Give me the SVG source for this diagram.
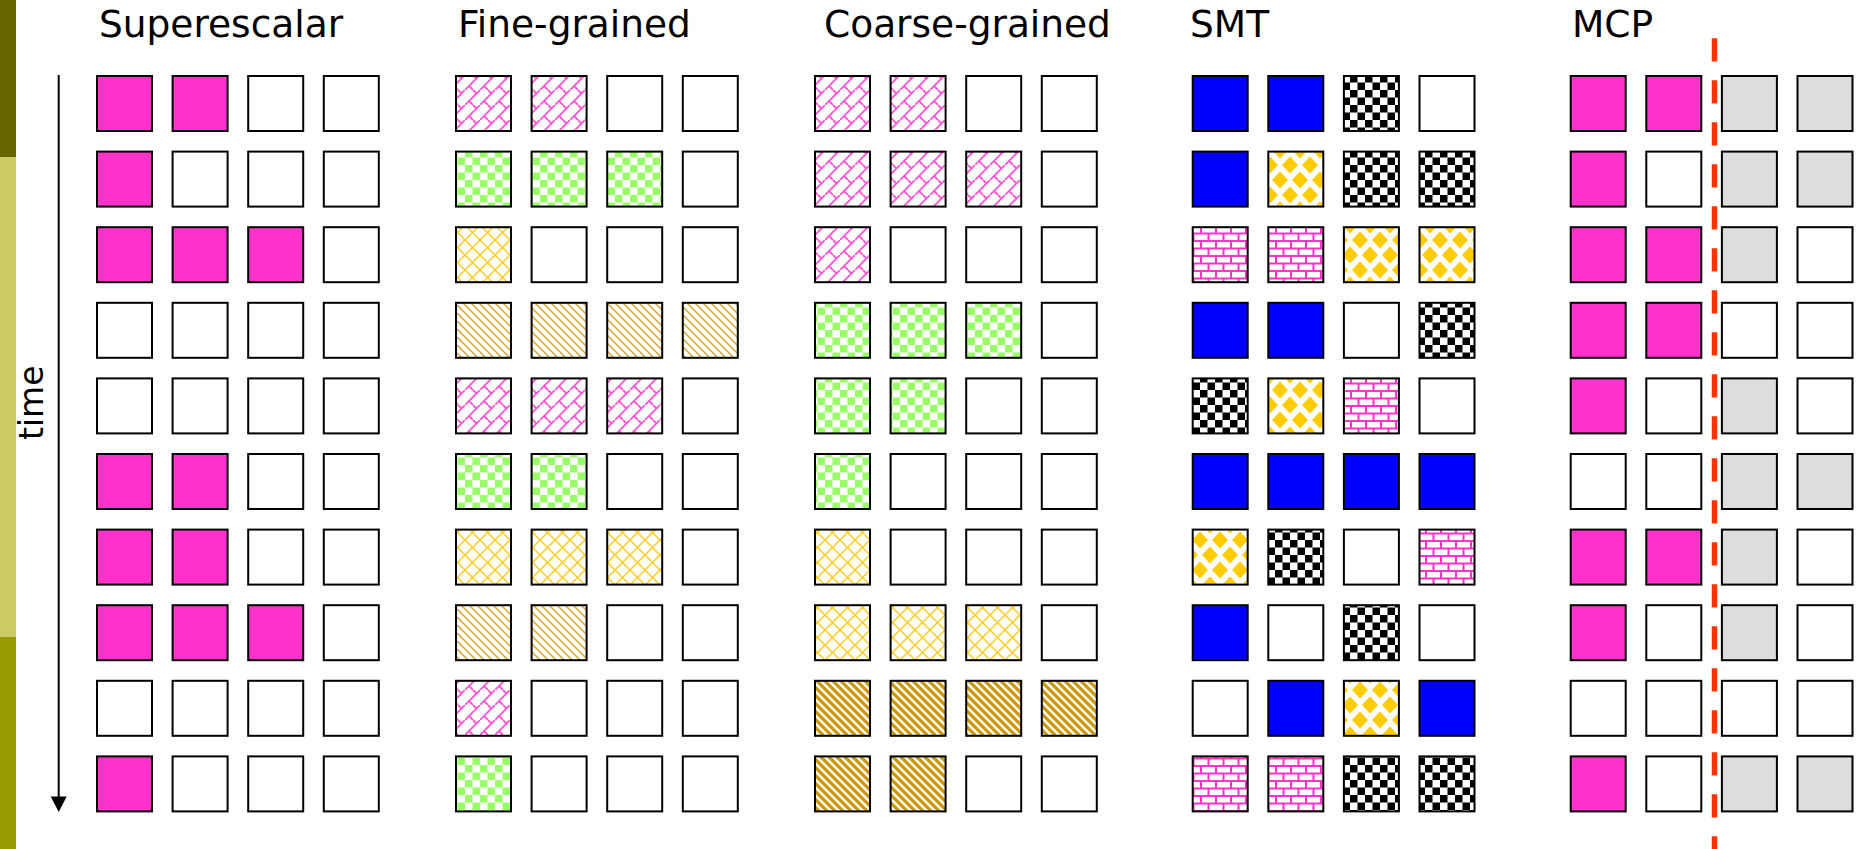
<svg xmlns="http://www.w3.org/2000/svg" width="1862" height="849" viewBox="0 0 1862 849">
<style>
.t{font-family:"DejaVu Sans",Verdana,sans-serif;font-size:37.5px;fill:#000}
.c{stroke:#000;stroke-width:2}
.w{fill:#fff}.p{fill:#FF33CC}.b{fill:#0000FF}.g{fill:#DDDDDD}
.pa{fill:url(#diagBrick)}.pg{fill:url(#greenCheck)}.py{fill:url(#yellowHatch)}
.po{fill:url(#orangeThin)}.pO{fill:url(#orangeThick)}.pk{fill:url(#blackCheck)}
.pd{fill:url(#yellowDiamond)}.pr{fill:url(#pinkBrick)}
</style>
<defs>
<pattern id="diagBrick" patternUnits="userSpaceOnUse" width="15" height="15">
<rect width="15" height="15" fill="#fff"/>
<path d="M-1,16 L16,-1 M4,11 L8,15 M8,0 L11.5,3.5" stroke="#FF55D5" stroke-width="1.8" fill="none"/>
</pattern>
<pattern id="greenCheck" patternUnits="userSpaceOnUse" width="15" height="15">
<rect width="15" height="15" fill="#fff"/>
<rect width="7.5" height="7.5" fill="#99FF66"/><rect x="7.5" y="7.5" width="7.5" height="7.5" fill="#99FF66"/>
</pattern>
<pattern id="yellowHatch" patternUnits="userSpaceOnUse" width="15" height="15">
<rect width="15" height="15" fill="#fff"/>
<path d="M-1,-1 L16,16 M16,-1 L-1,16" stroke="#FFCC22" stroke-width="1.5" fill="none"/>
</pattern>
<pattern id="orangeThin" patternUnits="userSpaceOnUse" width="8" height="8">
<rect width="8" height="8" fill="#fff"/>
<path d="M-2,-2 L10,10 M-2,6 L2,10 M6,-2 L10,2" stroke="#D9A530" stroke-width="1.5" fill="none"/>
</pattern>
<pattern id="orangeThick" patternUnits="userSpaceOnUse" width="8" height="8">
<rect width="8" height="8" fill="#fff"/>
<path d="M-2,-2 L10,10 M-2,6 L2,10 M6,-2 L10,2" stroke="#CC9900" stroke-width="3.2" fill="none"/>
</pattern>
<pattern id="blackCheck" patternUnits="userSpaceOnUse" width="15" height="15">
<rect width="15" height="15" fill="#fff"/>
<rect width="7.5" height="7.5" fill="#000"/><rect x="7.5" y="7.5" width="7.5" height="7.5" fill="#000"/>
</pattern>
<pattern id="yellowDiamond" patternUnits="userSpaceOnUse" width="20" height="30">
<rect width="20" height="30" fill="#fff"/>
<path d="M10,6.5 L18,15 L10,23.5 L2,15 Z M0,-8.5 L8,0 L0,8.5 L-8,0 Z M20,-8.5 L28,0 L20,8.5 L12,0 Z M0,21.5 L8,30 L0,38.5 L-8,30 Z M20,21.5 L28,30 L20,38.5 L12,30 Z" fill="#FFCC00"/>
</pattern>
<pattern id="pinkBrick" patternUnits="userSpaceOnUse" width="15" height="15">
<rect width="15" height="15" fill="#fff"/>
<path d="M0,1 L15,1 M0,8.5 L15,8.5 M1,1 L1,8.5 M8.5,8.5 L8.5,16" stroke="#FF33CC" stroke-width="2" fill="none"/>
</pattern>
</defs>

<g id="sidebar">
<rect x="0" y="0" width="16" height="157" fill="#666600"/>
<rect x="0" y="157" width="16" height="480" fill="#CCCC66"/>
<rect x="0" y="637" width="16" height="212" fill="#999900"/>
</g>

<g id="titles">
<text class="t" x="99" y="37">Superescalar</text>
<text class="t" x="458" y="37">Fine-grained</text>
<text class="t" x="824" y="37">Coarse-grained</text>
<text class="t" x="1190" y="37">SMT</text>
<text class="t" x="1572" y="37">MCP</text>
</g>

<g id="time-axis">
<line x1="58.7" y1="75" x2="58.7" y2="798" stroke="#000" stroke-width="2"/>
<polygon points="50.7,796.5 66.7,796.5 58.7,812" fill="#000"/>
<text class="t" style="font-size:33px" transform="translate(43,440) rotate(-90)">time</text>
</g>

<g id="superescalar">
<rect class="c p" x="97" y="76" width="55" height="55"/><rect class="c p" x="172.6" y="76" width="55" height="55"/><rect class="c w" x="248.2" y="76" width="55" height="55"/><rect class="c w" x="323.8" y="76" width="55" height="55"/>
<rect class="c p" x="97" y="151.6" width="55" height="55"/><rect class="c w" x="172.6" y="151.6" width="55" height="55"/><rect class="c w" x="248.2" y="151.6" width="55" height="55"/><rect class="c w" x="323.8" y="151.6" width="55" height="55"/>
<rect class="c p" x="97" y="227.2" width="55" height="55"/><rect class="c p" x="172.6" y="227.2" width="55" height="55"/><rect class="c p" x="248.2" y="227.2" width="55" height="55"/><rect class="c w" x="323.8" y="227.2" width="55" height="55"/>
<rect class="c w" x="97" y="302.8" width="55" height="55"/><rect class="c w" x="172.6" y="302.8" width="55" height="55"/><rect class="c w" x="248.2" y="302.8" width="55" height="55"/><rect class="c w" x="323.8" y="302.8" width="55" height="55"/>
<rect class="c w" x="97" y="378.4" width="55" height="55"/><rect class="c w" x="172.6" y="378.4" width="55" height="55"/><rect class="c w" x="248.2" y="378.4" width="55" height="55"/><rect class="c w" x="323.8" y="378.4" width="55" height="55"/>
<rect class="c p" x="97" y="454" width="55" height="55"/><rect class="c p" x="172.6" y="454" width="55" height="55"/><rect class="c w" x="248.2" y="454" width="55" height="55"/><rect class="c w" x="323.8" y="454" width="55" height="55"/>
<rect class="c p" x="97" y="529.6" width="55" height="55"/><rect class="c p" x="172.6" y="529.6" width="55" height="55"/><rect class="c w" x="248.2" y="529.6" width="55" height="55"/><rect class="c w" x="323.8" y="529.6" width="55" height="55"/>
<rect class="c p" x="97" y="605.2" width="55" height="55"/><rect class="c p" x="172.6" y="605.2" width="55" height="55"/><rect class="c p" x="248.2" y="605.2" width="55" height="55"/><rect class="c w" x="323.8" y="605.2" width="55" height="55"/>
<rect class="c w" x="97" y="680.8" width="55" height="55"/><rect class="c w" x="172.6" y="680.8" width="55" height="55"/><rect class="c w" x="248.2" y="680.8" width="55" height="55"/><rect class="c w" x="323.8" y="680.8" width="55" height="55"/>
<rect class="c p" x="97" y="756.4" width="55" height="55"/><rect class="c w" x="172.6" y="756.4" width="55" height="55"/><rect class="c w" x="248.2" y="756.4" width="55" height="55"/><rect class="c w" x="323.8" y="756.4" width="55" height="55"/>
</g>

<g id="fine-grained">
<rect class="c pa" x="456" y="76" width="55" height="55"/><rect class="c pa" x="531.6" y="76" width="55" height="55"/><rect class="c w" x="607.2" y="76" width="55" height="55"/><rect class="c w" x="682.8" y="76" width="55" height="55"/>
<rect class="c pg" x="456" y="151.6" width="55" height="55"/><rect class="c pg" x="531.6" y="151.6" width="55" height="55"/><rect class="c pg" x="607.2" y="151.6" width="55" height="55"/><rect class="c w" x="682.8" y="151.6" width="55" height="55"/>
<rect class="c py" x="456" y="227.2" width="55" height="55"/><rect class="c w" x="531.6" y="227.2" width="55" height="55"/><rect class="c w" x="607.2" y="227.2" width="55" height="55"/><rect class="c w" x="682.8" y="227.2" width="55" height="55"/>
<rect class="c po" x="456" y="302.8" width="55" height="55"/><rect class="c po" x="531.6" y="302.8" width="55" height="55"/><rect class="c po" x="607.2" y="302.8" width="55" height="55"/><rect class="c po" x="682.8" y="302.8" width="55" height="55"/>
<rect class="c pa" x="456" y="378.4" width="55" height="55"/><rect class="c pa" x="531.6" y="378.4" width="55" height="55"/><rect class="c pa" x="607.2" y="378.4" width="55" height="55"/><rect class="c w" x="682.8" y="378.4" width="55" height="55"/>
<rect class="c pg" x="456" y="454" width="55" height="55"/><rect class="c pg" x="531.6" y="454" width="55" height="55"/><rect class="c w" x="607.2" y="454" width="55" height="55"/><rect class="c w" x="682.8" y="454" width="55" height="55"/>
<rect class="c py" x="456" y="529.6" width="55" height="55"/><rect class="c py" x="531.6" y="529.6" width="55" height="55"/><rect class="c py" x="607.2" y="529.6" width="55" height="55"/><rect class="c w" x="682.8" y="529.6" width="55" height="55"/>
<rect class="c po" x="456" y="605.2" width="55" height="55"/><rect class="c po" x="531.6" y="605.2" width="55" height="55"/><rect class="c w" x="607.2" y="605.2" width="55" height="55"/><rect class="c w" x="682.8" y="605.2" width="55" height="55"/>
<rect class="c pa" x="456" y="680.8" width="55" height="55"/><rect class="c w" x="531.6" y="680.8" width="55" height="55"/><rect class="c w" x="607.2" y="680.8" width="55" height="55"/><rect class="c w" x="682.8" y="680.8" width="55" height="55"/>
<rect class="c pg" x="456" y="756.4" width="55" height="55"/><rect class="c w" x="531.6" y="756.4" width="55" height="55"/><rect class="c w" x="607.2" y="756.4" width="55" height="55"/><rect class="c w" x="682.8" y="756.4" width="55" height="55"/>
</g>

<g id="coarse-grained">
<rect class="c pa" x="815" y="76" width="55" height="55"/><rect class="c pa" x="890.6" y="76" width="55" height="55"/><rect class="c w" x="966.2" y="76" width="55" height="55"/><rect class="c w" x="1041.8" y="76" width="55" height="55"/>
<rect class="c pa" x="815" y="151.6" width="55" height="55"/><rect class="c pa" x="890.6" y="151.6" width="55" height="55"/><rect class="c pa" x="966.2" y="151.6" width="55" height="55"/><rect class="c w" x="1041.8" y="151.6" width="55" height="55"/>
<rect class="c pa" x="815" y="227.2" width="55" height="55"/><rect class="c w" x="890.6" y="227.2" width="55" height="55"/><rect class="c w" x="966.2" y="227.2" width="55" height="55"/><rect class="c w" x="1041.8" y="227.2" width="55" height="55"/>
<rect class="c pg" x="815" y="302.8" width="55" height="55"/><rect class="c pg" x="890.6" y="302.8" width="55" height="55"/><rect class="c pg" x="966.2" y="302.8" width="55" height="55"/><rect class="c w" x="1041.8" y="302.8" width="55" height="55"/>
<rect class="c pg" x="815" y="378.4" width="55" height="55"/><rect class="c pg" x="890.6" y="378.4" width="55" height="55"/><rect class="c w" x="966.2" y="378.4" width="55" height="55"/><rect class="c w" x="1041.8" y="378.4" width="55" height="55"/>
<rect class="c pg" x="815" y="454" width="55" height="55"/><rect class="c w" x="890.6" y="454" width="55" height="55"/><rect class="c w" x="966.2" y="454" width="55" height="55"/><rect class="c w" x="1041.8" y="454" width="55" height="55"/>
<rect class="c py" x="815" y="529.6" width="55" height="55"/><rect class="c w" x="890.6" y="529.6" width="55" height="55"/><rect class="c w" x="966.2" y="529.6" width="55" height="55"/><rect class="c w" x="1041.8" y="529.6" width="55" height="55"/>
<rect class="c py" x="815" y="605.2" width="55" height="55"/><rect class="c py" x="890.6" y="605.2" width="55" height="55"/><rect class="c py" x="966.2" y="605.2" width="55" height="55"/><rect class="c w" x="1041.8" y="605.2" width="55" height="55"/>
<rect class="c pO" x="815" y="680.8" width="55" height="55"/><rect class="c pO" x="890.6" y="680.8" width="55" height="55"/><rect class="c pO" x="966.2" y="680.8" width="55" height="55"/><rect class="c pO" x="1041.8" y="680.8" width="55" height="55"/>
<rect class="c pO" x="815" y="756.4" width="55" height="55"/><rect class="c pO" x="890.6" y="756.4" width="55" height="55"/><rect class="c w" x="966.2" y="756.4" width="55" height="55"/><rect class="c w" x="1041.8" y="756.4" width="55" height="55"/>
</g>

<g id="smt">
<rect class="c b" x="1192.7" y="76" width="55" height="55"/><rect class="c b" x="1268.3" y="76" width="55" height="55"/><rect class="c pk" x="1343.9" y="76" width="55" height="55"/><rect class="c w" x="1419.5" y="76" width="55" height="55"/>
<rect class="c b" x="1192.7" y="151.6" width="55" height="55"/><rect class="c pd" x="1268.3" y="151.6" width="55" height="55"/><rect class="c pk" x="1343.9" y="151.6" width="55" height="55"/><rect class="c pk" x="1419.5" y="151.6" width="55" height="55"/>
<rect class="c pr" x="1192.7" y="227.2" width="55" height="55"/><rect class="c pr" x="1268.3" y="227.2" width="55" height="55"/><rect class="c pd" x="1343.9" y="227.2" width="55" height="55"/><rect class="c pd" x="1419.5" y="227.2" width="55" height="55"/>
<rect class="c b" x="1192.7" y="302.8" width="55" height="55"/><rect class="c b" x="1268.3" y="302.8" width="55" height="55"/><rect class="c w" x="1343.9" y="302.8" width="55" height="55"/><rect class="c pk" x="1419.5" y="302.8" width="55" height="55"/>
<rect class="c pk" x="1192.7" y="378.4" width="55" height="55"/><rect class="c pd" x="1268.3" y="378.4" width="55" height="55"/><rect class="c pr" x="1343.9" y="378.4" width="55" height="55"/><rect class="c w" x="1419.5" y="378.4" width="55" height="55"/>
<rect class="c b" x="1192.7" y="454" width="55" height="55"/><rect class="c b" x="1268.3" y="454" width="55" height="55"/><rect class="c b" x="1343.9" y="454" width="55" height="55"/><rect class="c b" x="1419.5" y="454" width="55" height="55"/>
<rect class="c pd" x="1192.7" y="529.6" width="55" height="55"/><rect class="c pk" x="1268.3" y="529.6" width="55" height="55"/><rect class="c w" x="1343.9" y="529.6" width="55" height="55"/><rect class="c pr" x="1419.5" y="529.6" width="55" height="55"/>
<rect class="c b" x="1192.7" y="605.2" width="55" height="55"/><rect class="c w" x="1268.3" y="605.2" width="55" height="55"/><rect class="c pk" x="1343.9" y="605.2" width="55" height="55"/><rect class="c w" x="1419.5" y="605.2" width="55" height="55"/>
<rect class="c w" x="1192.7" y="680.8" width="55" height="55"/><rect class="c b" x="1268.3" y="680.8" width="55" height="55"/><rect class="c pd" x="1343.9" y="680.8" width="55" height="55"/><rect class="c b" x="1419.5" y="680.8" width="55" height="55"/>
<rect class="c pr" x="1192.7" y="756.4" width="55" height="55"/><rect class="c pr" x="1268.3" y="756.4" width="55" height="55"/><rect class="c pk" x="1343.9" y="756.4" width="55" height="55"/><rect class="c pk" x="1419.5" y="756.4" width="55" height="55"/>
</g>

<g id="mcp">
<rect class="c p" x="1570.7" y="76" width="55" height="55"/><rect class="c p" x="1646.3" y="76" width="55" height="55"/><rect class="c g" x="1721.9" y="76" width="55" height="55"/><rect class="c g" x="1797.5" y="76" width="55" height="55"/>
<rect class="c p" x="1570.7" y="151.6" width="55" height="55"/><rect class="c w" x="1646.3" y="151.6" width="55" height="55"/><rect class="c g" x="1721.9" y="151.6" width="55" height="55"/><rect class="c g" x="1797.5" y="151.6" width="55" height="55"/>
<rect class="c p" x="1570.7" y="227.2" width="55" height="55"/><rect class="c p" x="1646.3" y="227.2" width="55" height="55"/><rect class="c g" x="1721.9" y="227.2" width="55" height="55"/><rect class="c w" x="1797.5" y="227.2" width="55" height="55"/>
<rect class="c p" x="1570.7" y="302.8" width="55" height="55"/><rect class="c p" x="1646.3" y="302.8" width="55" height="55"/><rect class="c w" x="1721.9" y="302.8" width="55" height="55"/><rect class="c w" x="1797.5" y="302.8" width="55" height="55"/>
<rect class="c p" x="1570.7" y="378.4" width="55" height="55"/><rect class="c w" x="1646.3" y="378.4" width="55" height="55"/><rect class="c g" x="1721.9" y="378.4" width="55" height="55"/><rect class="c w" x="1797.5" y="378.4" width="55" height="55"/>
<rect class="c w" x="1570.7" y="454" width="55" height="55"/><rect class="c w" x="1646.3" y="454" width="55" height="55"/><rect class="c g" x="1721.9" y="454" width="55" height="55"/><rect class="c g" x="1797.5" y="454" width="55" height="55"/>
<rect class="c p" x="1570.7" y="529.6" width="55" height="55"/><rect class="c p" x="1646.3" y="529.6" width="55" height="55"/><rect class="c g" x="1721.9" y="529.6" width="55" height="55"/><rect class="c w" x="1797.5" y="529.6" width="55" height="55"/>
<rect class="c p" x="1570.7" y="605.2" width="55" height="55"/><rect class="c w" x="1646.3" y="605.2" width="55" height="55"/><rect class="c g" x="1721.9" y="605.2" width="55" height="55"/><rect class="c w" x="1797.5" y="605.2" width="55" height="55"/>
<rect class="c w" x="1570.7" y="680.8" width="55" height="55"/><rect class="c w" x="1646.3" y="680.8" width="55" height="55"/><rect class="c w" x="1721.9" y="680.8" width="55" height="55"/><rect class="c w" x="1797.5" y="680.8" width="55" height="55"/>
<rect class="c p" x="1570.7" y="756.4" width="55" height="55"/><rect class="c w" x="1646.3" y="756.4" width="55" height="55"/><rect class="c g" x="1721.9" y="756.4" width="55" height="55"/><rect class="c g" x="1797.5" y="756.4" width="55" height="55"/>
</g>

<g id="connectors">
<line id="mcp-divider" x1="1714.5" y1="38.3" x2="1714.5" y2="849" stroke="#FF3300" stroke-width="5.5" stroke-dasharray="23.3 18.7"/>
</g>
</svg>
